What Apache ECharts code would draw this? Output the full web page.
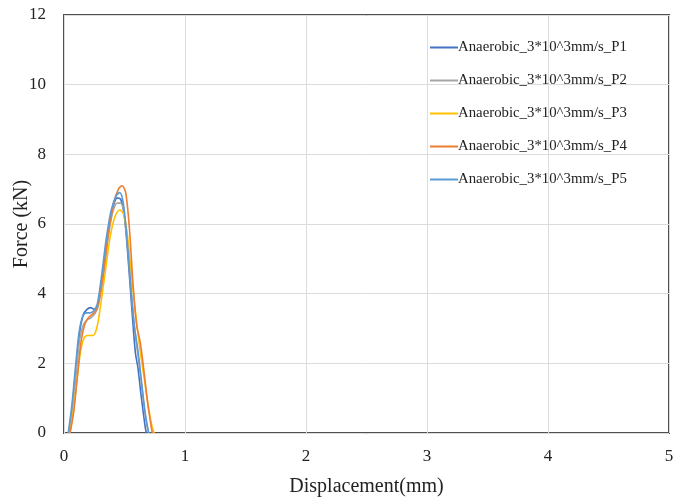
<!DOCTYPE html>
<html><head><meta charset="utf-8">
<script src="https://cdn.jsdelivr.net/npm/echarts@6/dist/echarts.min.js"></script>
<style>html,body{margin:0;padding:0;background:#fff}#c{width:688px;height:500px}</style>
</head><body><div id="c"></div>
<script>
const seriesNames = ['Anaerobic_3*10^3mm/s_P1','Anaerobic_3*10^3mm/s_P2','Anaerobic_3*10^3mm/s_P3','Anaerobic_3*10^3mm/s_P4','Anaerobic_3*10^3mm/s_P5'];
const xTicks = [0,1,2,3,4,5];
const yTicks = [0,2,4,6,8,10,12];

const p1x = [0.04,0.07,0.10,0.13,0.16,0.19,0.22,0.25,0.28,0.32,0.36,0.40,0.44,0.47,0.50,0.53,0.56,0.59,0.61,0.64,0.67,0.68];
const p1y = [0,0.8,1.9,2.9,3.4,3.55,3.6,3.55,3.7,4.5,5.6,6.4,6.75,6.7,6.2,5.0,3.6,2.3,1.9,1.0,0.2,0];

const p2x = [0.04,0.07,0.10,0.13,0.16,0.19,0.22,0.25,0.28,0.32,0.36,0.40,0.44,0.47,0.50,0.53,0.56,0.59,0.62,0.65,0.68,0.70];
const p2y = [0,0.7,1.7,2.7,3.1,3.25,3.3,3.4,3.6,4.4,5.5,6.3,6.6,6.6,6.2,5.2,3.9,2.8,2.0,1.1,0.3,0];

const p3x = [0.05,0.08,0.11,0.14,0.17,0.20,0.24,0.27,0.30,0.34,0.38,0.42,0.46,0.49,0.52,0.55,0.58,0.61,0.64,0.67,0.70,0.73,0.745];
const p3y = [0,0.7,1.6,2.4,2.75,2.8,2.8,3.0,3.6,4.6,5.6,6.2,6.4,6.3,5.8,4.8,3.8,2.9,2.1,1.4,0.7,0.15,0];

const p4x = [0.05,0.08,0.11,0.14,0.17,0.20,0.23,0.26,0.29,0.33,0.37,0.41,0.45,0.48,0.51,0.54,0.57,0.60,0.63,0.66,0.69,0.72,0.73];
const p4y = [0,0.6,1.6,2.6,3.1,3.3,3.4,3.5,3.8,4.7,5.8,6.6,7.0,7.1,6.9,5.9,4.3,3.1,2.6,1.8,0.9,0.2,0];

const p5x = [0.035,0.065,0.095,0.125,0.155,0.185,0.215,0.245,0.275,0.31,0.35,0.39,0.43,0.46,0.49,0.52,0.55,0.58,0.61,0.64,0.67,0.70];
const p5y = [0,0.8,1.9,2.9,3.35,3.45,3.45,3.5,3.7,4.5,5.6,6.4,6.8,6.9,6.6,5.6,4.3,3.1,2.4,1.5,0.6,0];

const colors = ['#4472C4','#A5A5A5','#FFC000','#ED7D31','#5B9BD5'];
const xs = [p1x,p2x,p3x,p4x,p5x];
const ys = [p1y,p2y,p3y,p4y,p5y];

const font = '"Liberation Serif","Times New Roman",serif';
const chart = echarts.init(document.getElementById('c'));
chart.setOption({
  animation:false,
  color: colors,
  grid:{left:64, top:15, width:605, height:418, show:true, borderColor:'#505050', borderWidth:2, backgroundColor:'transparent', containLabel:false, outerBoundsMode:'none'},
  legend:{
    orient:'vertical', left:425, top:35, itemGap:18, itemWidth:28, itemHeight:2,
    icon:'rect',
    textStyle:{fontFamily:font, fontSize:14.8, color:'#222', padding:[0,0,0,-5]},
    data: seriesNames
  },
  xAxis:{
    type:'value', min:xTicks[0], max:xTicks[xTicks.length-1], interval:1,
    name:'Displacement(mm)', nameLocation:'middle', nameGap:44, nameMoveOverlap:false,
    nameTextStyle:{fontFamily:font, fontSize:20, color:'#222'},
    axisLine:{show:false}, axisTick:{show:false},
    axisLabel:{fontFamily:font, fontSize:17, color:'#222', margin:15},
    splitLine:{show:true, lineStyle:{color:'#dcdcdc', width:1}}
  },
  yAxis:{
    type:'value', min:yTicks[0], max:yTicks[yTicks.length-1], interval:2,
    name:'Force (kN)', nameLocation:'middle', nameGap:32, nameMoveOverlap:false,
    nameTextStyle:{fontFamily:font, fontSize:20, color:'#222'},
    axisLine:{show:false}, axisTick:{show:false},
    axisLabel:{fontFamily:font, fontSize:17, color:'#222', margin:18},
    splitLine:{show:true, lineStyle:{color:'#dcdcdc', width:1}}
  },
  series: seriesNames.map((n,i)=>({
    name:n, type:'line', showSymbol:false, smooth:0.3,
    lineStyle:{width:1.6, color:colors[i]},
    itemStyle:{color:colors[i]},
    data: xs[i].map((x,j)=>[x, ys[i][j]])
  }))
});
</script></body></html>
